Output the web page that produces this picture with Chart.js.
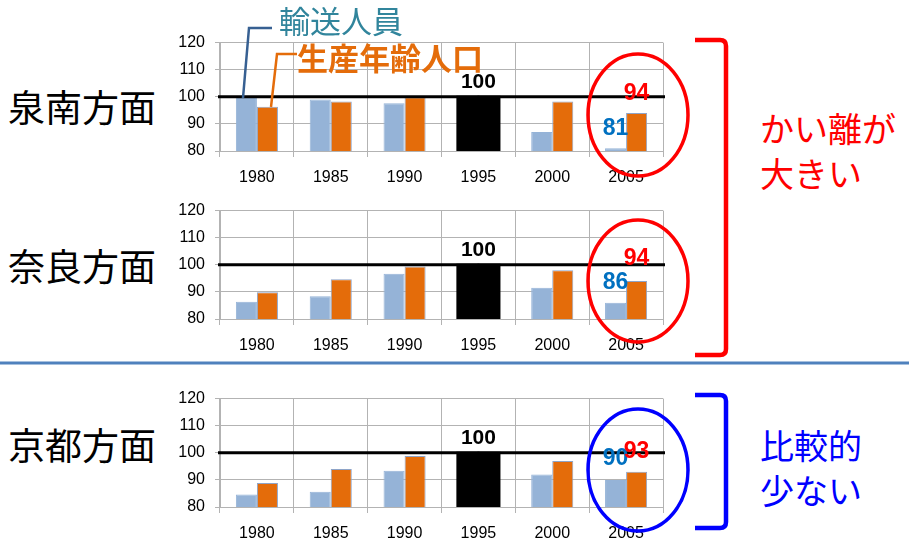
<!DOCTYPE html>
<html lang="ja">
<head>
<meta charset="utf-8">
<script src="https://cdn.jsdelivr.net/npm/chart.js@4/dist/chart.umd.min.js"></script>
<style>
  body { margin: 0; background: #fff; }
  #page { position: relative; width: 909px; height: 543px; overflow: hidden; font-family: "Noto Sans CJK JP", sans-serif; }
  canvas { position: absolute; left: 170px; }
  .area { position: absolute; left: 8px; font-size: 37px; color: #000; line-height: 1; }
  .note { position: absolute; left: 760px; font-size: 34px; line-height: 45px; }
  svg { position: absolute; left: 0; top: 0; }
</style>
</head>
<body>
<div id="page">
  <canvas id="senan" width="510" height="163" style="top:23px"></canvas>
  <canvas id="nara" width="510" height="163" style="top:191px"></canvas>
  <canvas id="kyoto" width="510" height="163" style="top:379px"></canvas>

  <div class="area" style="top:88px">泉南方面</div>
  <div class="area" style="top:247px">奈良方面</div>
  <div class="area" style="top:426px">京都方面</div>

  <div style="position:absolute;left:279px;top:3px;font-size:31px;line-height:34px;color:#31859C">輸送人員</div>
  <div style="position:absolute;left:297px;top:40px;font-size:31px;line-height:34px;color:#E46C0A;font-weight:bold">生産年齢人口</div>

  <div class="note" style="top:105px;color:#FF0000">かい離が<br>大きい</div>
  <div class="note" style="top:422px;color:#0000FF">比較的<br>少ない</div>

  <svg width="909" height="543">
    <!-- legend callouts -->
    <path d="M243 98 L249 28 L272 28" fill="none" stroke="#376092" stroke-width="2.5"/>
    <path d="M271 107 L277 54 L297 54" fill="none" stroke="#E46C0A" stroke-width="2.5"/>
    <!-- 2005 highlights -->
    <ellipse cx="638" cy="115" rx="50" ry="61" fill="none" stroke="#FF0000" stroke-width="3.5"/>
    <ellipse cx="638" cy="281" rx="50" ry="61" fill="none" stroke="#FF0000" stroke-width="3.5"/>
    <ellipse cx="638" cy="470" rx="50" ry="61" fill="none" stroke="#0000FF" stroke-width="3.5"/>
    <!-- brackets -->
    <path d="M695 40 L720 40 Q726 40 726 46 L726 349 Q726 355 720 355 L695 355" fill="none" stroke="#FF0000" stroke-width="4.5"/>
    <path d="M695 395 L720 395 Q726 395 726 401 L726 522 Q726 528 720 528 L695 528" fill="none" stroke="#0000FF" stroke-width="4.5"/>
    <!-- divider -->
    <line x1="0" y1="363" x2="909" y2="363" stroke="#4F81BD" stroke-width="3"/>
  </svg>
</div>

<script>
// index values, 1995 = 100
const years = ['1980', '1985', '1990', '1995', '2000', '2005'];
const yTicks = [80, 90, 100, 110, 120];
const baseYear = '1995';

const senanStaff   = [100, 99, 97.6, 100, 87, 81];
const senanWorking = [96.3, 98.3, 99.8, 100, 98.3, 94];
const naraStaff    = [86.4, 88.4, 96.7, 100, 91.5, 86];
const naraWorking  = [89.9, 94.7, 99.4, 100, 98, 94];
const kyotoStaff   = [84.6, 85.6, 93.4, 100, 92, 90];
const kyotoWorking = [88.9, 94, 98.8, 100, 97, 93];

const BLUE = '#95B3D7';
const ORANGE = '#E46C0A';
const GRID = '#B3B3B3';
const baseIdx = years.indexOf(baseYear);

// base line at 100, the "100" tag and the 2005 value tags
const markers = {
  id: 'markers',
  afterDatasetsDraw(chart, args, opts) {
    const { ctx, chartArea, scales } = chart;
    const y = scales.y.getPixelForValue(100);
    ctx.save();
    ctx.strokeStyle = '#000';
    ctx.lineWidth = 3;
    ctx.beginPath();
    ctx.moveTo(chartArea.left - 2, y);
    ctx.lineTo(chartArea.right + 2, y);
    ctx.stroke();

    ctx.textAlign = 'center';
    ctx.textBaseline = 'middle';
    ctx.font = 'bold 21px "Liberation Sans"';
    ctx.fillStyle = '#000';
    const base = chart.data.datasets[0].data[baseIdx];
    ctx.fillText(String(base), scales.x.getPixelForValue(baseIdx), y - 15);

    const last = years.length - 1;
    ctx.font = 'bold 23px "Liberation Sans"';
    chart.data.datasets.forEach((ds, i) => {
      const bar = chart.getDatasetMeta(i).data[last];
      ctx.fillStyle = i === 0 ? '#0070C0' : '#FF0000';
      ctx.fillText(String(ds.data[last]), bar.x, opts.tagY[i]);
    });
    ctx.restore();
  }
};

function drawPanel(id, staff, working, tagY) {
  const ctx = document.getElementById(id).getContext('2d');
  const isBase = years.map(y => y === baseYear);
  return new Chart(ctx, {
    type: 'bar',
    data: {
      labels: years,
      datasets: [
        {
          label: '輸送人員',
          data: staff,
          backgroundColor: isBase.map(b => b ? '#000' : BLUE),
          borderColor: isBase.map(b => b ? '#000' : BLUE),
          borderWidth: isBase.map(b => b ? 0 : 1),
          inflateAmount: isBase.map(b => b ? 1 : 0)
        },
        {
          label: '生産年齢人口',
          data: working,
          backgroundColor: isBase.map(b => b ? '#000' : ORANGE),
          borderColor: isBase.map(b => b ? '#000' : '#8EA4C8'),
          borderWidth: isBase.map(b => b ? 0 : 1),
          inflateAmount: isBase.map(b => b ? 1 : 0)
        }
      ]
    },
    options: {
      responsive: false,
      animation: false,
      layout: { padding: { top: 0, right: 17, left: 0, bottom: 0 } },
      datasets: { bar: { categoryPercentage: 0.57, barPercentage: 1 } },
      plugins: {
        legend: { display: false },
        tooltip: { enabled: false },
        markers: { tagY: tagY }
      },
      scales: {
        x: {
          grid: { color: GRID, tickLength: 6, offset: true },
          border: { color: GRID },
          ticks: { color: '#000', padding: 11, font: { family: 'Liberation Sans', size: 16 } },
          afterFit(scale) { scale.height = 35; }
        },
        y: {
          min: yTicks[0],
          max: yTicks[yTicks.length - 1],
          ticks: { stepSize: 10, color: '#000', padding: 10, font: { family: 'Liberation Sans', size: 16 } },
          grid: { color: GRID, tickLength: 5 },
          border: { color: GRID },
          afterFit(scale) { scale.width = 50; }
        }
      }
    },
    plugins: [markers]
  });
}

drawPanel('senan', senanStaff, senanWorking, [106, 71]);
drawPanel('nara', naraStaff, naraWorking, [92, 68]);
drawPanel('kyoto', kyotoStaff, kyotoWorking, [80, 73]);
</script>
</body>
</html>
